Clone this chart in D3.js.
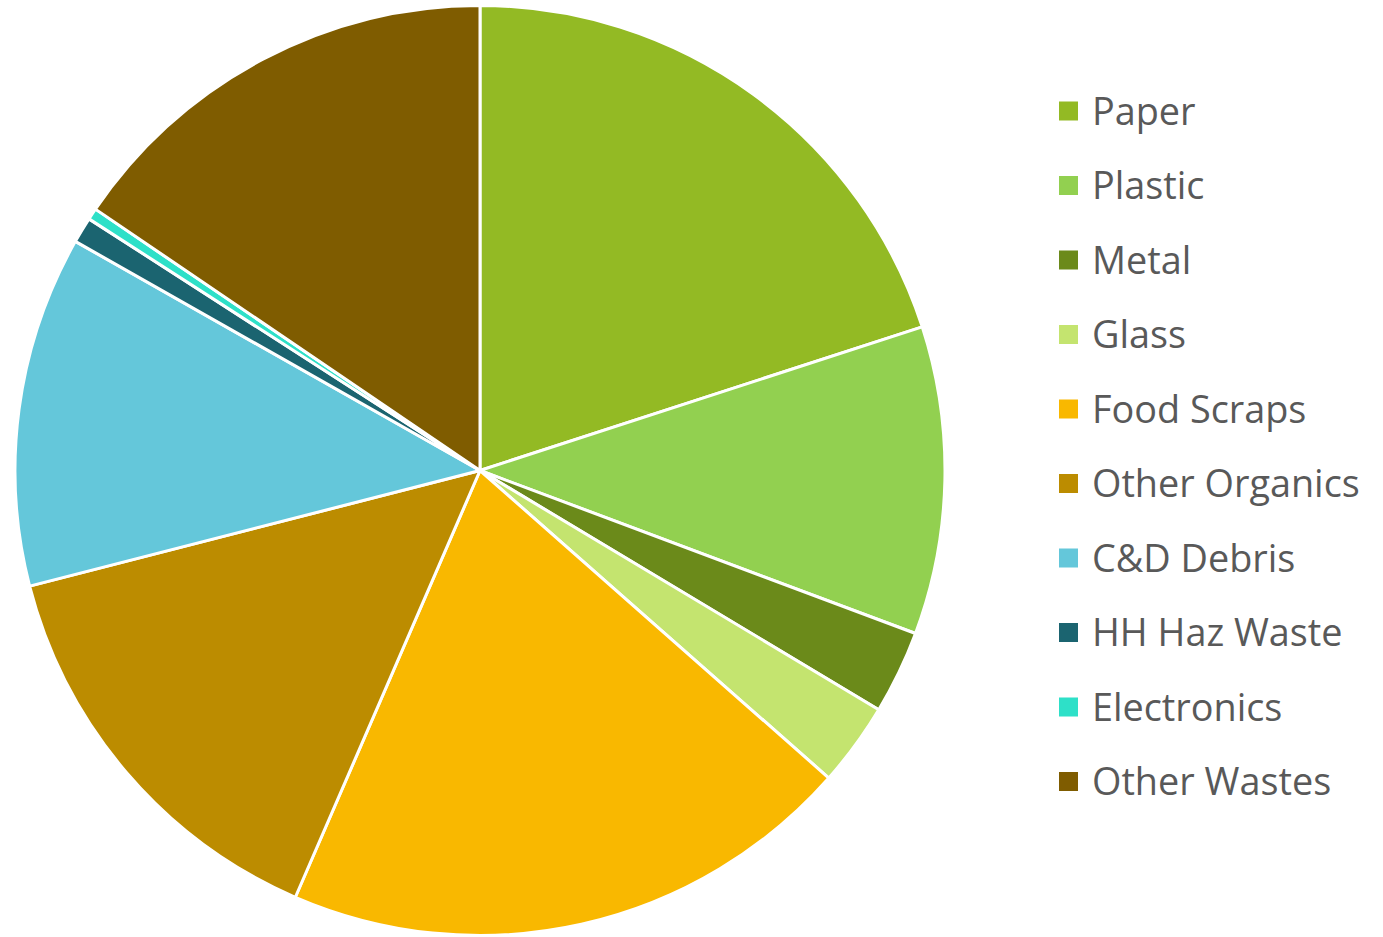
<!DOCTYPE html>
<html>
<head>
<meta charset="utf-8">
<script src="https://cdn.jsdelivr.net/npm/d3@7/dist/d3.min.js"></script>
<style>
  html, body { margin: 0; padding: 0; background: #fff; }
  svg { display: block; }
</style>
</head>
<body>
<svg id="chart" width="1383" height="937"></svg>
<script>
// Waste composition by material (percent of total)
const categories = ["Paper", "Plastic", "Metal", "Glass", "Food Scraps", "Other Organics",
                    "C&D Debris", "HH Haz Waste", "Electronics", "Other Wastes"];
const shares = [20.0, 10.7, 2.9, 2.9, 20.0, 14.5, 12.2, 0.9, 0.4, 15.5];
const colors = ["#93BA24", "#92D050", "#6B8A1A", "#C4E46F", "#F9B800", "#BC8C00",
                "#64C7DA", "#1B6470", "#2EE0C8", "#7F5C00"];

const svg = d3.select("#chart");
const cx = 480, cy = 470.5, radius = 465;

const data = categories.map((c, i) => ({ name: c, value: shares[i], color: colors[i] }));

const pie = d3.pie().value(d => d.value).sort(null);
const arc = d3.arc().innerRadius(0).outerRadius(radius);

svg.append("g")
  .attr("transform", `translate(${cx},${cy})`)
  .selectAll("path")
  .data(pie(data))
  .join("path")
  .attr("d", arc)
  .attr("fill", d => d.data.color)
  .attr("stroke", "#fff")
  .attr("stroke-width", 3)
  .attr("stroke-linejoin", "round");

// Legend
const legendX = 1059, legendTop = 111, rowGap = 74.5, box = 19;
const legend = svg.append("g");
const rows = legend.selectAll("g")
  .data(data)
  .join("g")
  .attr("transform", (d, i) => `translate(${legendX},${legendTop + i * rowGap})`);

rows.append("rect")
  .attr("x", 0).attr("y", -box / 2)
  .attr("width", box).attr("height", box)
  .attr("fill", d => d.color);

rows.append("text")
  .attr("x", 33).attr("y", 13.5)
  .attr("font-family", "'Open Sans', sans-serif")
  .attr("font-size", 37.8)
  .attr("fill", "#595959")
  .text(d => d.name);
</script>
</body>
</html>
